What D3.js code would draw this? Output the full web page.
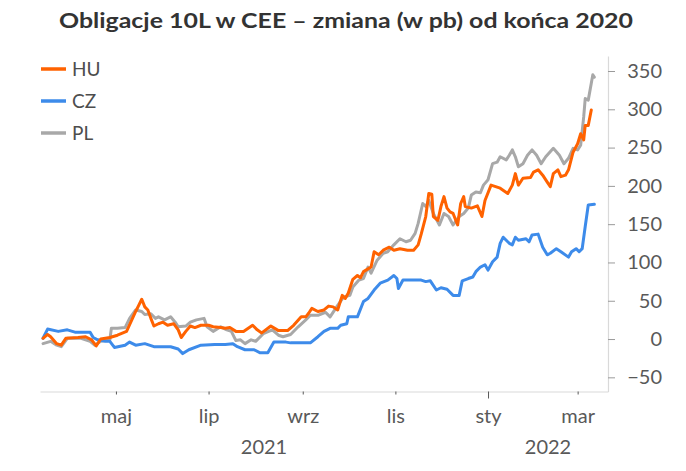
<!DOCTYPE html>
<html>
<head>
<meta charset="utf-8">
<script src="https://cdn.jsdelivr.net/npm/d3@7"></script>
<style>
  body { margin: 0; background: #fff; }
  svg text { font-family: Lato, "Open Sans", sans-serif; }
</style>
</head>
<body>
<script>
// Chart text
var title = "Obligacje 10L w CEE – zmiana (w pb) od końca 2020";
var seriesNames = ["HU", "CZ", "PL"];

// Axis ticks and labels
var monthTicks = [new Date(2021, 4, 1), new Date(2021, 6, 1), new Date(2021, 8, 1),
                  new Date(2021, 10, 1), new Date(2022, 0, 1), new Date(2022, 2, 1)];
var monthLabels = ["maj", "lip", "wrz", "lis", "sty", "mar"];
var yearLabels = ["2021", "2022"];
var yTicks = [-50, 0, 50, 100, 150, 200, 250, 300, 350];

// Series: day offsets from first observation + change in bp
var startDate = new Date(2021, 2, 14);

var huDays = [0, 3, 5, 9, 12, 15, 23, 28, 32, 35, 38, 44, 49, 55, 58, 61, 63, 65, 67, 69, 71, 73, 76, 79, 82, 86, 89, 91, 94, 97,
  100, 104, 109, 112, 117, 120, 123, 127, 132, 138, 141, 144, 150, 155, 161, 165, 170, 173, 175, 177, 181, 185, 188, 191, 194, 197, 199,
  201, 204, 207, 209, 211, 216, 218, 221, 224, 228, 231, 235, 240, 244, 247, 249, 252, 254, 256, 257, 260, 262, 264, 266, 268, 270,
  273, 275, 277, 278, 282, 286, 289, 291, 295, 298, 301, 306, 309, 311, 313, 316, 321, 323, 326, 329, 332, 334, 336, 339, 341, 344,
  346, 349, 352, 354, 356, 357, 359, 361];
var huValues = [1, 6, 3, -6, -8, 1, 2, 3, -1, -9, 0, 2, 5, 10, 23, 36, 44, 52, 42, 38, 27, 17, 20, 22, 18, 20, 12, 2, 10, 17,
  15, 18, 18, 16, 15, 14, 15, 10, 10, 18, 12, 8, 17, 11, 11, 18, 29, 29, 34, 40, 36, 38, 43, 42, 38, 57, 53,
  60, 78, 83, 80, 88, 94, 114, 110, 116, 120, 116, 118, 116, 116, 123, 137, 160, 190, 189, 160, 155, 173, 186, 171, 166, 164,
  149, 177, 186, 173, 171, 174, 160, 181, 201, 199, 197, 190, 201, 216, 201, 210, 211, 218, 221, 214, 205, 199, 216, 221, 212, 214,
  221, 244, 255, 268, 260, 279, 279, 299];

var czDays = [0, 3, 10, 16, 21, 31, 33, 36, 41, 44, 47, 54, 57, 61, 67, 73, 84, 89, 92, 96, 104, 113, 120, 125, 128, 133, 139, 143,
  148, 152, 160, 163, 176, 181, 185, 189, 194, 196, 200, 201, 207, 211, 214, 218, 222, 227, 231, 233, 234, 237, 242, 249, 252, 255,
  259, 262, 266, 270, 274, 276, 280, 283, 285, 288, 291, 293, 296, 299, 301, 303, 307, 309, 311, 313, 318, 320, 322, 326, 329, 332,
  334, 338, 341, 346, 348, 351, 353, 355, 357, 359, 363];
var czValues = [1, 13, 10, 12, 9, 9, 2, -1, -3, -3, -11, -8, -4, -8, -6, -10, -10, -13, -19, -14, -8, -7, -7, -6, -10, -14, -14, -18,
  -18, -4, -4, -5, -5, 3, 10, 14, 14, 18, 20, 29, 29, 49, 53, 64, 73, 77, 83, 79, 66, 77, 77, 77, 75, 76,
  64, 67, 65, 57, 57, 76, 79, 81, 88, 94, 97, 90, 101, 107, 125, 133, 125, 123, 133, 129, 131, 127, 136, 137, 120, 110,
  112, 118, 114, 107, 114, 118, 114, 118, 147, 175, 176];

var plDays = [0, 5, 9, 12, 16, 25, 31, 34, 38, 44, 45, 49, 54, 57, 61, 65, 67, 71, 74, 76, 80, 84, 87, 89, 94, 97, 101, 106, 108,
  112, 117, 121, 124, 127, 130, 133, 137, 140, 145, 151, 155, 158, 163, 168, 173, 176, 181, 186, 189, 194, 198, 202, 204, 208, 211,
  214, 216, 220, 224, 227, 231, 235, 239, 242, 245, 247, 250, 252, 254, 257, 261, 264, 267, 270, 274, 277, 280, 282, 285, 288, 290,
  293, 296, 299, 301, 305, 307, 309, 311, 313, 316, 319, 322, 325, 328, 331, 336, 340, 343, 346, 349, 352, 354, 356, 357, 359, 361,
  362, 363];
var plValues = [-6, -3, -8, -10, 1, 1, -3, -8, -3, -1, 14, 14, 15, 27, 38, 36, 32, 33, 27, 29, 25, 29, 22, 16, 17, 22, 25, 27, 16,
  10, 16, 12, 10, -2, -1, -6, -1, -3, 7, 12, 5, 3, 6, 16, 25, 31, 31, 35, 29, 44, 55, 57, 68, 77, 79,
  94, 86, 103, 112, 114, 123, 131, 127, 129, 138, 151, 177, 173, 181, 164, 149, 164, 160, 149, 160, 164, 171, 188, 192, 191, 201,
  208, 229, 231, 238, 234, 240, 247, 238, 225, 229, 240, 247, 240, 229, 238, 249, 240, 229, 236, 249, 247, 253, 290, 314, 312, 334,
  345, 342];

// Layout
var width = 686, height = 471;
var plot = { left: 40, right: 608, top: 56, bottom: 391.5 };
var colors = { HU: "#ff6200", CZ: "#3d8bea", PL: "#a8a8a8" };

function toSeries(days, values) {
  return days.map(function(d, i) {
    return { date: d3.timeDay.offset(startDate, d), value: values[i] };
  });
}

var series = [
  { name: "PL", data: toSeries(plDays, plValues) },
  { name: "CZ", data: toSeries(czDays, czValues) },
  { name: "HU", data: toSeries(huDays, huValues) }
];

var svg = d3.select("body").append("svg")
  .attr("width", width)
  .attr("height", height);

// Scales
var x = d3.scaleTime()
  .domain([new Date(2021, 2, 12), new Date(2022, 2, 21)])
  .range([plot.left, plot.right]);

var y = d3.scaleLinear()
  .domain([-68.5, 369.6])
  .range([plot.bottom, plot.top]);

// Title
svg.append("text")
  .attr("x", 346)
  .attr("y", 28)
  .attr("text-anchor", "middle")
  .attr("font-size", 21)
  .attr("font-weight", "bold")
  .attr("fill", "#333")
  .attr("textLength", 574)
  .attr("lengthAdjust", "spacingAndGlyphs")
  .text(title);

// Y axis on the right
var yAxis = svg.append("g")
  .attr("transform", "translate(" + plot.right + ",0)")
  .call(d3.axisRight(y).tickValues(yTicks).tickSize(7).tickSizeOuter(0));
yAxis.select(".domain").attr("stroke", "#d9d9d9").attr("stroke-width", 1.2);
yAxis.selectAll(".tick line").attr("stroke", "#9a9a9a");
yAxis.selectAll(".tick text")
  .attr("x", 54)
  .attr("text-anchor", "end")
  .attr("font-size", 20)
  .attr("fill", "#595959");

// X axis
var xAxis = svg.append("g")
  .attr("transform", "translate(0," + plot.bottom + ")")
  .call(d3.axisBottom(x).tickValues(monthTicks).tickSize(3).tickSizeOuter(0).tickPadding(14)
    .tickFormat(function(d, i) { return monthLabels[i]; }));
xAxis.select(".domain").attr("stroke", "#d9d9d9").attr("stroke-width", 1.2);
xAxis.selectAll(".tick line").attr("stroke", "#595959")
  .attr("y2", function(d) { return d.getMonth() === 0 ? 7 : 3; });
xAxis.selectAll(".tick text")
  .attr("font-size", 20)
  .attr("fill", "#595959");

// Year labels, centred on their span of the axis
var yearEdges = [x.domain()[0], new Date(2022, 0, 1), x.domain()[1]];
svg.append("g").selectAll("text")
  .data(yearLabels)
  .enter()
  .append("text")
    .attr("x", function(d, i) { return (x(yearEdges[i]) + x(yearEdges[i + 1])) / 2; })
    .attr("y", 454)
    .attr("text-anchor", "middle")
    .attr("font-size", 20)
    .attr("fill", "#595959")
    .text(function(d) { return d; });

// Lines
var line = d3.line()
  .x(function(d) { return x(d.date); })
  .y(function(d) { return y(d.value); });

svg.append("g").selectAll("path")
  .data(series)
  .enter()
  .append("path")
    .attr("d", function(d) { return line(d.data); })
    .attr("fill", "none")
    .attr("stroke", function(d) { return colors[d.name]; })
    .attr("stroke-width", 3)
    .attr("stroke-linejoin", "round")
    .attr("stroke-linecap", "round");

// Legend
var legend = svg.append("g").selectAll("g")
  .data(seriesNames)
  .enter()
  .append("g")
    .attr("transform", function(d, i) { return "translate(41," + (69 + i * 32) + ")"; });

legend.append("line")
  .attr("x1", 0).attr("x2", 25)
  .attr("stroke", function(d) { return colors[d]; })
  .attr("stroke-width", 3.5);

legend.append("text")
  .attr("x", 31)
  .attr("dy", "0.36em")
  .attr("font-size", 19)
  .attr("fill", "#4d4d4d")
  .text(function(d) { return d; });
</script>
</body>
</html>
